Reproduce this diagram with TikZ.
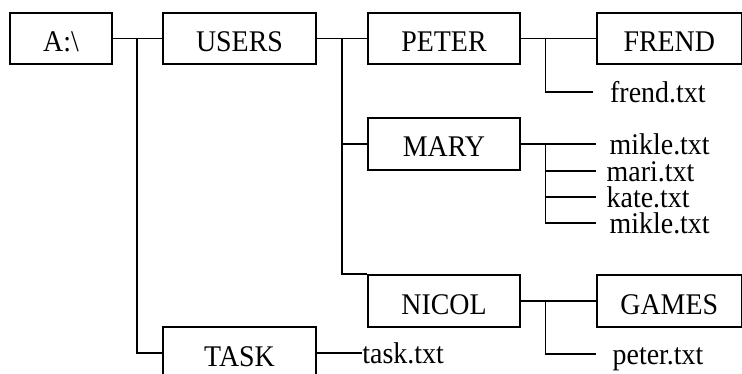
\documentclass[tikz,border=0pt]{standalone}
\usepackage{fontspec}
\setmainfont{Liberation Serif}
\newcommand{\txt}[1]{\scalebox{0.93}[1]{#1}}
\tikzset{
  ln/.style={line width=1.5pt, line join=miter},
  box/.style={draw, line width=1.5pt, inner sep=0pt, minimum height=51pt,
    text height=26pt, text depth=0pt, font=\fontsize{30}{30}\selectfont},
  file/.style={inner ysep=0pt, anchor=west, text height=20.5pt, text depth=0pt,
    font=\fontsize{30}{30}\selectfont},
}
\begin{document}
\begin{tikzpicture}[x=1pt, y=-1pt]
\useasboundingbox (0,0) rectangle (742,374);
\clip (0,0) rectangle (742,374);
\fill[white] (0,0) rectangle (742,374);
% boxes
\node[box, minimum width=102pt] (A) at (61,38.5) {\txt{A:\textbackslash}};
\node[box, minimum width=153pt] (USERS) at (239.5,38.5) {\txt{USERS}};
\node[box, minimum width=152pt] (PETER) at (444,38.5) {\txt{PETER}};
\node[box, minimum width=144.5pt] (FREND) at (669.25,38.5) {\txt{FREND}};
\node[box, minimum width=152pt, minimum height=52pt] (MARY) at (444,144) {\txt{MARY}};
\node[box, minimum width=152pt, minimum height=52pt] (NICOL) at (444,301) {\txt{NICOL}};
\node[box, minimum width=144.5pt, minimum height=52pt] (GAMES) at (669.25,301) {\txt{GAMES}};
\node[box, minimum width=153pt, minimum height=52pt] (TASK) at (239.5,353) {\txt{TASK}};
% files
\node[file, inner xsep=17pt] (f1) at (593,92) {\txt{frend.txt}};
\node[file, inner xsep=13.5pt] (m1) at (596,144) {\txt{mikle.txt}};
\node[file, inner xsep=10.5pt] (m2) at (596,171) {\txt{mari.txt}};
\node[file, inner xsep=10.5pt] (m3) at (596,197) {\txt{kate.txt}};
\node[file, inner xsep=13.5pt] (m4) at (596,223) {\txt{mikle.txt}};
\node[file, inner xsep=16.5pt] (p1) at (596,354) {\txt{peter.txt}};
\node[file, inner xsep=0.5pt] (t1) at (361.7,353) {\txt{task.txt}};
% junctions
\coordinate (j1) at (137,38.5);
\coordinate (j2) at (342,38.5);
\coordinate (j3) at (545.5,38.5);
\coordinate (j4) at (545.5,144);
\coordinate (j5) at (545.5,301);
% connectors
\draw[ln] (A.east) -- (USERS.west);
\draw[ln] (j1) |- (TASK.west);
\draw[ln] (USERS.east) -- (PETER.west);
\draw[ln] (j2) |- (NICOL.north west);
\draw[ln] (j2 |- MARY.west) -- (MARY.west);
\draw[ln] (PETER.east) -- (FREND.west);
\draw[ln] (j3) |- (f1.west);
\draw[ln] (MARY.east) -- (m1.west);
\draw[ln] (j4) |- (m4.west);
\draw[ln] (j4 |- m2.west) -- (m2.west);
\draw[ln] (j4 |- m3.west) -- (m3.west);
\draw[ln] (NICOL.east) -- (GAMES.west);
\draw[ln] (j5) |- (p1.west);
\draw[ln] (TASK.east) -- (t1.west);
\end{tikzpicture}
\end{document}
